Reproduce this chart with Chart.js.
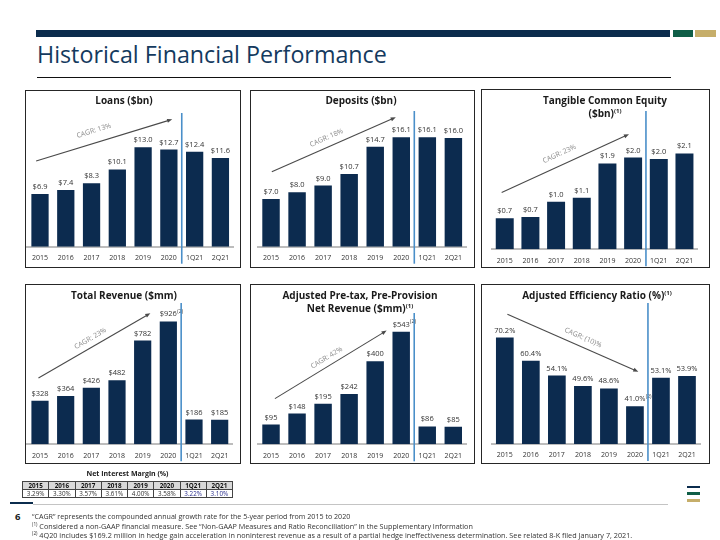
<!DOCTYPE html>
<html><head><meta charset="utf-8">
<script src="https://cdn.jsdelivr.net/npm/chart.js@4"></script>
<style>
html,body{margin:0;padding:0;background:#fff;}
#page{position:relative;width:720px;height:540px;overflow:hidden;font-family:"Open Sans",sans-serif;}
.abs{position:absolute;}
.box{position:absolute;border:1.6px solid #262626;box-sizing:border-box;}
.ptitle{position:absolute;width:260px;text-align:center;font-weight:700;font-size:10px;line-height:13px;color:#1a1a1a;white-space:nowrap;}
.ptitle sup{font-size:6px;vertical-align:0;position:relative;top:-4px;}
canvas{position:absolute;}
#nim{position:absolute;left:22px;top:481px;width:211px;border-collapse:collapse;table-layout:fixed;border:1.5px solid #222;}
#nim td{border:1px solid #444;height:7px;padding:0;font-size:6.3px;line-height:7px;text-align:center;color:#333;}
#nim tr.h td{background:#d9d9d9;font-weight:700;color:#111;}
#nim td.q{color:#2b2f8f;}
.fn{position:absolute;left:32px;white-space:nowrap;color:#333;}
.fn sup{font-size:0.65em;vertical-align:0;position:relative;top:-0.45em;}
</style></head>
<body><div id="page">
<div class="abs" style="left:36px;top:30px;width:634px;height:7px;background:#0b2c4d"></div>
<div class="abs" style="left:673px;top:30px;width:20px;height:7px;background:#0f5e47"></div>
<div class="abs" style="left:695px;top:30px;width:21px;height:7px;background:#c6ae6a"></div>
<div id="mainTitle" class="abs" style="left:37px;top:41px;font-size:21px;line-height:26px;color:#143a5e;white-space:nowrap">Historical Financial Performance</div>
<div class="abs" style="left:37px;top:77px;width:634px;height:1px;background:#111"></div>

<div class="box" style="left:25px;top:90px;width:216px;height:178px"></div>
<div class="box" style="left:250px;top:90px;width:225px;height:178px"></div>
<div class="box" style="left:481px;top:89px;width:229px;height:179px"></div>
<div class="box" style="left:25px;top:284px;width:216px;height:180px"></div>
<div class="box" style="left:250px;top:284px;width:225px;height:180px"></div>
<div class="box" style="left:481px;top:284px;width:229px;height:180px"></div>

<canvas id="c1"></canvas><canvas id="c2"></canvas><canvas id="c3"></canvas>
<canvas id="c4"></canvas><canvas id="c5"></canvas><canvas id="c6"></canvas>

<div class="ptitle" style="left:-6px;top:94px">Loans ($bn)</div>
<div class="ptitle" style="left:231px;top:94px">Deposits ($bn)</div>
<div class="ptitle" style="left:475px;top:94px">Tangible Common Equity<br>($bn)<sup>(1)</sup></div>
<div class="ptitle" style="left:-6px;top:289px">Total Revenue ($mm)</div>
<div class="ptitle" style="left:230px;top:289px">Adjusted Pre-tax, Pre-Provision<br>Net Revenue ($mm)<sup>(1)</sup></div>
<div class="ptitle" style="left:467px;top:289px">Adjusted Efficiency Ratio (%)<sup>(1)</sup></div>

<div class="abs" style="left:22px;top:469px;width:211px;text-align:center;font-weight:700;font-size:7px;line-height:10px;color:#1a1a1a">Net Interest Margin (%)</div>
<table id="nim"><tbody></tbody></table>

<div class="abs" style="left:687px;top:485.5px;width:13px;height:2.5px;background:#0b2c4d"></div>
<div class="abs" style="left:687px;top:492px;width:13px;height:2.5px;background:#0f5e47"></div>
<div class="abs" style="left:687px;top:499px;width:13px;height:2.5px;background:#c6ae6a"></div>

<div class="abs" style="left:10px;top:502px;width:23px;height:2px;background:#0b2c4d"></div>
<div class="abs" style="left:33px;top:504px;width:635px;height:1px;background:#c4c4c4"></div>
<div class="abs" style="left:15px;top:512px;font-weight:700;font-size:9.5px;line-height:10px;color:#1a1a1a">6</div>
<div id="fn1" class="fn" style="top:512px;font-size:7px;line-height:9px">“CAGR” represents the compounded annual growth rate for the 5-year period from 2015 to 2020</div>
<div id="fn2" class="fn" style="top:521.5px;font-size:7px;line-height:9px"><sup>(1)</sup> Considered a non-GAAP financial measure. See “Non-GAAP Measures and Ratio Reconciliation” in the Supplementary Information</div>
<div id="fn3" class="fn" style="top:530.5px;font-size:7px;line-height:9px"><sup>(2)</sup> 4Q20 includes $169.2 million in hedge gain acceleration in noninterest revenue as a result of a partial hedge ineffectiveness determination. See related 8-K filed January 7, 2021.</div>
</div>
<script>
const categories = ['2015','2016','2017','2018','2019','2020','1Q21','2Q21'];
const loans = [6.9, 7.4, 8.3, 10.1, 13.0, 12.7, 12.4, 11.6];
const deposits = [7.0, 8.0, 9.0, 10.7, 14.7, 16.1, 16.1, 16.0];
const tangibleEquity = [0.68, 0.71, 1.04, 1.13, 1.88, 2.01, 1.98, 2.10];
const totalRevenue = [328, 364, 426, 482, 782, 926, 186, 185];
const adjustedPPNR = [95, 148, 195, 242, 400, 543, 86, 85];
const efficiencyRatio = [70.2, 60.4, 54.1, 49.6, 48.6, 41.0, 53.1, 53.9];
const cagrLabels = ['CAGR: 13%', 'CAGR: 18%', 'CAGR: 23%', 'CAGR: 23%', 'CAGR: 42%', 'CAGR: (10)%'];
const footnoteMarks = ['', '', '', '', '', '(2)', '', ''];
const nimValues = [3.29, 3.30, 3.57, 3.61, 4.00, 3.58, 3.22, 3.10];

// fit text blocks to the widths they occupy on the slide
function fitWidth(id, target) {
  const el = document.getElementById(id);
  const fs = parseFloat(el.style.fontSize);
  const w = el.getBoundingClientRect().width;
  if (w > 0) el.style.fontSize = (fs * target / w).toFixed(2) + 'px';
}
function fitAll() {
  fitWidth('mainTitle', 350);
  fitWidth('fn1', 319);
  fitWidth('fn2', 441);
  fitWidth('fn3', 601);
}
fitAll();

// NIM table
(function(){
  const tb = document.querySelector('#nim tbody');
  const r1 = document.createElement('tr'); r1.className = 'h';
  const r2 = document.createElement('tr');
  categories.forEach((c, i) => {
    const a = document.createElement('td'); a.textContent = c; if (i > 5) a.className = 'q'; r1.appendChild(a);
    const b = document.createElement('td'); b.textContent = nimValues[i].toFixed(2) + '%'; if (i > 5) b.className = 'q'; r2.appendChild(b);
  });
  tb.appendChild(r1); tb.appendChild(r2);
})();

const FONT = "'Open Sans', sans-serif";
const decor = {
  id: 'decor',
  afterDatasetsDraw(chart, args, o) {
    const ctx = chart.ctx, xs = chart.scales.x, ys = chart.scales.y, area = chart.chartArea;
    const meta = chart.getDatasetMeta(0);
    const vals = chart.data.datasets[0].data;
    ctx.save();
    meta.data.forEach((bar, i) => {
      const s = o.fmt(vals[i]);
      ctx.font = '7.5px ' + FONT; ctx.fillStyle = '#333'; ctx.textAlign = 'center'; ctx.textBaseline = 'alphabetic';
      ctx.fillText(s, bar.x, bar.y - 5);
      if (o.notes && o.notes[i]) {
        const w = ctx.measureText(s).width;
        ctx.font = '5px ' + FONT; ctx.textAlign = 'left';
        ctx.fillText(o.notes[i], bar.x + w / 2 + 0.3, bar.y - 8.5);
      }
    });
    // divider between annual and quarterly
    const dx = (xs.getPixelForValue(5) + xs.getPixelForValue(6)) / 2;
    ctx.strokeStyle = '#4a8fc9'; ctx.lineWidth = 1.6;
    ctx.beginPath(); ctx.moveTo(dx, area.top + o.divTop); ctx.lineTo(dx, area.bottom + 17); ctx.stroke();
    // CAGR arrow
    const a = o.arrow[0], b = o.arrow[1];
    const x1 = xs.getPixelForValue(a[0]), y1 = ys.getPixelForValue(a[1]);
    const x2 = xs.getPixelForValue(b[0]), y2 = ys.getPixelForValue(b[1]);
    const ang = Math.atan2(y2 - y1, x2 - x1), hl = 5.5;
    ctx.strokeStyle = '#4a4a4a'; ctx.fillStyle = '#4a4a4a'; ctx.lineWidth = 1.1;
    ctx.beginPath(); ctx.moveTo(x1, y1); ctx.lineTo(x2 - hl * 0.8 * Math.cos(ang), y2 - hl * 0.8 * Math.sin(ang)); ctx.stroke();
    ctx.beginPath(); ctx.moveTo(x2, y2);
    ctx.lineTo(x2 - hl * Math.cos(ang - 0.38), y2 - hl * Math.sin(ang - 0.38));
    ctx.lineTo(x2 - hl * Math.cos(ang + 0.38), y2 - hl * Math.sin(ang + 0.38));
    ctx.closePath(); ctx.fill();
    const tx = x1 + (x2 - x1) * o.t, ty = y1 + (y2 - y1) * o.t;
    ctx.translate(tx, ty); ctx.rotate(ang);
    ctx.font = '7px ' + FONT; ctx.fillStyle = '#8a8a8a'; ctx.textAlign = 'center'; ctx.textBaseline = 'middle';
    ctx.fillText(o.cagr, 0, -o.off);
    ctx.restore();
  }
};

const AXIS_H = 19;
function makeChart(spec) {
  const cv = document.getElementById(spec.id);
  const [bx, by, bw, bh] = spec.box;
  const ch = bh + 8;
  cv.width = bw; cv.height = ch;
  cv.style.left = bx + 'px'; cv.style.top = by + 'px';
  cv.style.width = bw + 'px'; cv.style.height = ch + 'px';
  const [pl, pr, pt, pb] = spec.plot;
  new Chart(cv, {
    type: 'bar',
    data: { labels: categories, datasets: [{ data: spec.data, backgroundColor: '#0c2b4f', borderWidth: 0, barPercentage: spec.bp || 0.67, categoryPercentage: 1 }] },
    options: {
      responsive: false, animation: false, events: [],
      layout: { padding: { left: pl - bx, right: bx + bw - pr, top: pt - by, bottom: by + ch - pb - AXIS_H } },
      plugins: {
        legend: { display: false }, tooltip: { enabled: false },
        decor: { fmt: spec.fmt, notes: spec.notes, arrow: spec.arrow, cagr: spec.cagr, t: spec.t, off: spec.off, divTop: spec.divTop }
      },
      scales: {
        x: {
          grid: { display: false, drawTicks: false },
          border: { display: true, color: '#bdbdbd', width: 2 },
          ticks: { padding: 7, color: '#333', font: { family: FONT, size: 7 }, maxRotation: 0, autoSkip: false },
          afterFit(s) { s.height = AXIS_H; }
        },
        y: { display: false, min: spec.min, max: spec.max, beginAtZero: false }
      }
    },
    plugins: [decor]
  });
}

const money1 = v => '$' + v.toFixed(1);
makeChart({ id: 'c1', data: loans, fmt: money1, box: [25, 90, 216, 178], plot: [25, 233.3, 111, 246.7], min: 0, max: 17.74,
  arrow: [[-0.15, 11.2], [5.13, 16.65]], cagr: cagrLabels[0], t: 0.45, off: 12, divTop: 2 });
makeChart({ id: 'c2', data: deposits, fmt: money1, box: [250, 90, 225, 178], plot: [258, 466.4, 111, 246.7], min: 0, max: 19.96,
  arrow: [[0.03, 11.03], [4.79, 19.03]], cagr: cagrLabels[1], t: 0.47, off: 9, divTop: 0 });
makeChart({ id: 'c3', data: tangibleEquity, fmt: money1, box: [481, 90, 229, 178], plot: [491.9, 697.3, 111, 249.3], min: 0, max: 3.03, bp: 0.7,
  arrow: [[-0.12, 1.247], [4.84, 2.52]], cagr: cagrLabels[2], t: 0.49, off: 11, divTop: 0 });
makeChart({ id: 'c4', data: totalRevenue, fmt: v => '$' + v, notes: footnoteMarks, box: [25, 284, 216, 180], plot: [25, 232.5, 303, 444.3], min: 0, max: 1065,
  arrow: [[-0.06, 500], [4.3, 988]], cagr: cagrLabels[3], t: 0.5, off: 8, divTop: 0 });
makeChart({ id: 'c5', data: adjustedPPNR, fmt: v => '$' + v, notes: footnoteMarks, box: [250, 284, 225, 180], plot: [258, 466.3, 303, 444.3], min: 0, max: 681,
  arrow: [[0.15, 220], [4.44, 548]], cagr: cagrLabels[4], t: 0.5, off: 8, divTop: 10 });
makeChart({ id: 'c6', data: efficiencyRatio, fmt: v => v.toFixed(1) + '%', notes: footnoteMarks, box: [481, 284, 229, 180], plot: [491.8, 700, 303, 444], min: 25, max: 84.9, bp: 0.68,
  arrow: [[0.1, 80.1], [5.13, 55.7]], cagr: cagrLabels[5], t: 0.55, off: 9, divTop: 0 });
</script>
</body></html>
